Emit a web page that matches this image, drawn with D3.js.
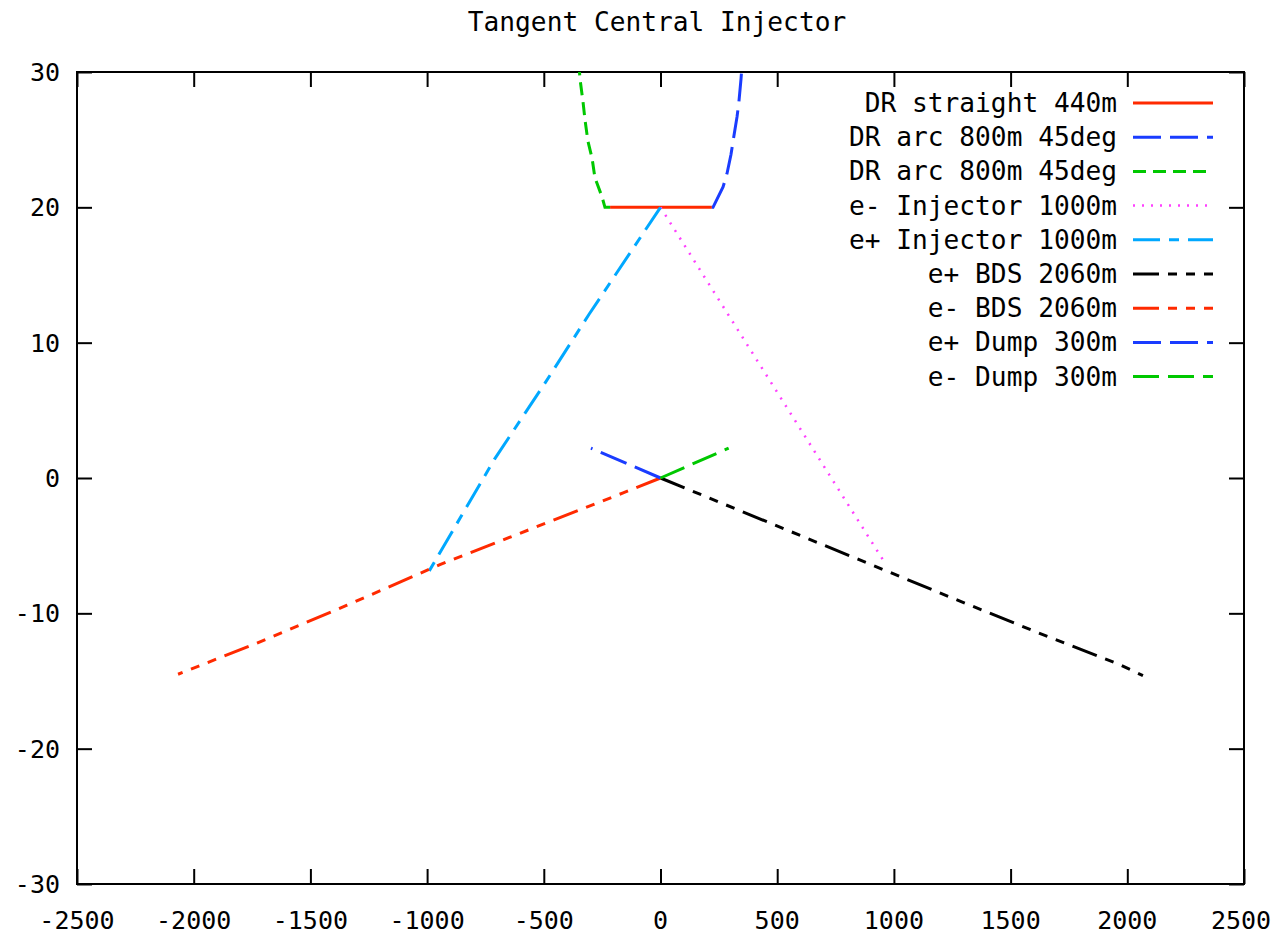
<!DOCTYPE html>
<html>
<head>
<meta charset="utf-8">
<script src="https://cdn.jsdelivr.net/npm/d3@7"></script>
<style>
  body { margin: 0; background: #fff; }
  svg text { font-family: "DejaVu Sans Mono", monospace; font-size: 26.2px; fill: #000; }
  svg text.tick-label { font-size: 25px; }
</style>
</head>
<body>
<svg id="chart" width="1274" height="934"></svg>
<script>
const title = 'Tangent Central Injector'
const xTicks = [-2500, -2000, -1500, -1000, -500, 0, 500, 1000, 1500, 2000, 2500]
const yTicks = [-30, -20, -10, 0, 10, 20, 30]

// points, [x metres, y metres]
const drStraight = [[-216, 20], [220, 20]]
const drArcRight = [[220, 20], [225, 20.0], [268, 21.5], [285, 22.5], [302, 23.9], [311, 24.9], [328, 26.7], [336, 27.8], [345, 29.5], [348, 30.2]]
const drArcLeft = [[-216, 20], [-238, 20.0], [-251, 20.8], [-281, 22.2], [-293, 23.6], [-311, 24.9], [-323, 26.4], [-332, 27.8], [-345, 29.5], [-348, 30.2]]
const eMinusInjector = [[0, 20], [966, -6.4]]
const ePlusInjector = [[0, 20], [-306, 12.1], [-499, 6.9], [-711, 1.4], [-992, -6.9]]
const ePlusBDS = [[0, 0], [846, -6.0], [1283, -9.1], [1613, -11.4], [1956, -13.7], [2067, -14.6]]
const eMinusBDS = [[0, 0], [-160, -1.1], [-945, -6.4], [-1343, -9.4], [-1729, -12.2], [-2067, -14.5]]
const ePlusDump = [[0, 0], [-298, 2.2]]
const eMinusDump = [[0, 0], [292, 2.2]]

const series = [
  { name: 'DR straight 440m', data: drStraight, color: '#ff2a00', dash: null },
  { name: 'DR arc 800m 45deg', data: drArcRight, color: '#1a3cff', dash: '28,9' },
  { name: 'DR arc 800m 45deg', data: drArcLeft, color: '#00c800', dash: '13,7' },
  { name: 'e- Injector 1000m', data: eMinusInjector, color: '#ff40ff', dash: '2,7' },
  { name: 'e+ Injector 1000m', data: ePlusInjector, color: '#00a8ff', dash: '27,9,10,9' },
  { name: 'e+ BDS 2060m', data: ePlusBDS, color: '#000000', dash: '26,9,9,9,9,9,9,9' },
  { name: 'e- BDS 2060m', data: eMinusBDS, color: '#ff2a00', dash: '26,9,9,9,9,9,9,9' },
  { name: 'e+ Dump 300m', data: ePlusDump, color: '#1a3cff', dash: '28,9' },
  { name: 'e- Dump 300m', data: eMinusDump, color: '#00c800', dash: '26,9' },
]

const plotLeft = 77, plotRight = 1244, plotTop = 72, plotBottom = 884
const svg = d3.select('#chart')

const x = d3.scaleLinear().domain([-2500, 2500]).range([plotLeft, plotRight])
const y = d3.scaleLinear().domain([-30, 30]).range([plotBottom, plotTop])

svg.append('text')
  .attr('x', 657).attr('y', 31)
  .attr('text-anchor', 'middle')
  .text(title)

svg.append('clipPath').attr('id', 'plot-clip')
  .append('rect')
  .attr('x', plotLeft).attr('y', plotTop)
  .attr('width', plotRight - plotLeft).attr('height', plotBottom - plotTop)

const tickLen = 15
const axisG = svg.append('g')

function styleAxis(g) {
  g.select('.domain').remove()
  g.selectAll('.tick line').attr('stroke', '#000').attr('stroke-width', 2)
  g.selectAll('.tick text').remove()
}

axisG.append('g').attr('transform', `translate(0,${plotBottom})`)
  .call(d3.axisTop(x).tickValues(xTicks).tickSize(tickLen)).call(styleAxis)
axisG.append('g').attr('transform', `translate(0,${plotTop})`)
  .call(d3.axisBottom(x).tickValues(xTicks).tickSize(tickLen)).call(styleAxis)
axisG.append('g').attr('transform', `translate(${plotLeft},0)`)
  .call(d3.axisRight(y).tickValues(yTicks).tickSize(tickLen)).call(styleAxis)
axisG.append('g').attr('transform', `translate(${plotRight},0)`)
  .call(d3.axisLeft(y).tickValues(yTicks).tickSize(tickLen)).call(styleAxis)

xTicks.forEach(t => {
  svg.append('text')
    .attr('class', 'tick-label')
    .attr('x', Math.min(x(t), 1241)).attr('y', 929)
    .attr('text-anchor', 'middle')
    .text(t)
})
yTicks.forEach(t => {
  svg.append('text')
    .attr('class', 'tick-label')
    .attr('x', 60).attr('y', y(t) + 9)
    .attr('text-anchor', 'end')
    .text(t)
})

svg.append('rect')
  .attr('x', plotLeft).attr('y', plotTop)
  .attr('width', plotRight - plotLeft).attr('height', plotBottom - plotTop)
  .attr('fill', 'none').attr('stroke', '#000').attr('stroke-width', 2)

const line = d3.line().x(d => x(d[0])).y(d => y(d[1]))

const plot = svg.append('g').attr('clip-path', 'url(#plot-clip)')
series.forEach(s => {
  plot.append('path')
    .attr('d', line(s.data))
    .attr('fill', 'none')
    .attr('stroke', s.color)
    .attr('stroke-width', s.dash === '2,7' ? 2.5 : 3)
    .attr('stroke-dasharray', s.dash)
})

// legend
const legend = svg.append('g')
series.forEach((s, i) => {
  const ly = 103 + i * 34.2
  legend.append('text')
    .attr('x', 1117).attr('y', ly + 9)
    .attr('text-anchor', 'end')
    .text(s.name)
  legend.append('line')
    .attr('x1', 1133).attr('x2', 1213)
    .attr('y1', ly).attr('y2', ly)
    .attr('stroke', s.color)
    .attr('stroke-width', s.dash === '2,7' ? 2.5 : 3)
    .attr('stroke-dasharray', s.dash)
})
</script>
</body>
</html>
